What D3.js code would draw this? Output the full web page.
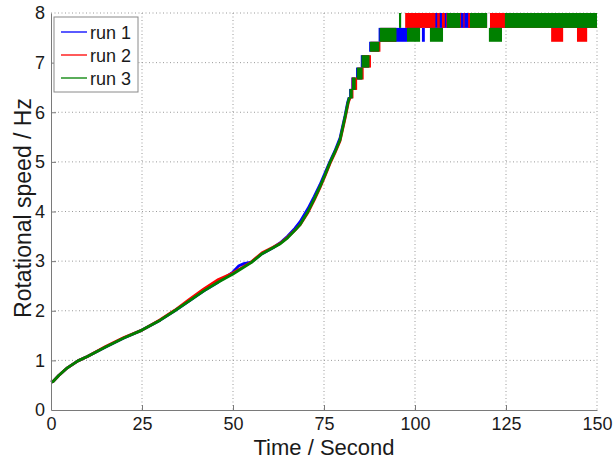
<!DOCTYPE html>
<html>
<head>
<meta charset="utf-8">
<script src="https://cdn.jsdelivr.net/npm/d3@7"></script>
<style>
  body { margin: 0; background: #fff; }
  text { font-family: "Liberation Sans", Arial, sans-serif; fill: #1a1a1a; }
</style>
</head>
<body>
<div id="chart"></div>
<script>
// Tick values
var timeTicks = [0, 25, 50, 75, 100, 125, 150];
var speedTicks = [0, 1, 2, 3, 4, 5, 6, 7, 8];

var runNames = ['run 1', 'run 2', 'run 3'];
var runColors = ['#0000ff', '#ff0000', '#008000'];

// Smooth ramp of each run (time in s, speed in Hz)
var run1Time = [0, 0.5, 2.2, 4.5, 7.4, 10, 15, 20, 25, 30, 34, 38, 42, 46, 50, 51.5, 53, 55, 58, 61, 63, 65, 67, 68.4, 70.6, 72.3, 73.9, 75.3, 76.6, 78, 79.4, 80.8, 81.5, 81.9];
var run1Speed = [0.56, 0.57, 0.7, 0.85, 0.99, 1.08, 1.27, 1.45, 1.61, 1.81, 2.0, 2.2, 2.4, 2.58, 2.78, 2.9, 2.95, 2.98, 3.15, 3.27, 3.37, 3.5, 3.66, 3.79, 4.06, 4.3, 4.54, 4.78, 5.0, 5.22, 5.48, 5.94, 6.2, 6.3];

var run2Time = [0, 0.5, 2.2, 4.5, 7.4, 10, 15, 20, 25, 30, 34, 38, 42, 46, 50, 55, 58, 61, 63, 65, 67, 68.4, 70.6, 72.3, 73.9, 75.3, 76.6, 78, 79.4, 80.8, 81.7, 82.2];
var run2Speed = [0.56, 0.57, 0.7, 0.85, 0.99, 1.08, 1.28, 1.46, 1.61, 1.82, 2.01, 2.23, 2.44, 2.63, 2.76, 2.98, 3.17, 3.28, 3.36, 3.48, 3.62, 3.73, 3.98, 4.23, 4.48, 4.72, 4.96, 5.18, 5.42, 5.88, 6.2, 6.3];

var run3Time = [0, 0.5, 2.2, 4.5, 7.4, 10, 15, 20, 25, 30, 34, 38, 42, 46, 50, 55, 58, 61, 63, 65, 67, 68.4, 70.6, 72.3, 73.9, 75.3, 76.6, 78, 79.4, 80.8, 81.6, 82.0];
var run3Speed = [0.56, 0.57, 0.7, 0.85, 0.99, 1.08, 1.27, 1.45, 1.61, 1.81, 2.0, 2.2, 2.4, 2.58, 2.74, 2.97, 3.15, 3.27, 3.35, 3.47, 3.62, 3.73, 4.0, 4.25, 4.5, 4.74, 4.98, 5.2, 5.44, 5.91, 6.2, 6.3];

// Stretches where the speed flips quickly between two steps:
// [start s, end s, lower Hz, upper Hz]
var run1Bands = [
  [81.9, 82.8, 6.28, 6.47], [82.5, 83.6, 6.45, 6.7], [83.8, 85.4, 6.66, 6.9],
  [85.1, 87.3, 6.9, 7.15], [87.4, 90.0, 7.22, 7.42], [90.0, 97.8, 7.42, 7.7],
  [97.8, 101.9, 7.7, 8.0], [101.9, 102.7, 7.42, 7.7], [102.7, 119.8, 7.7, 8.0],
  [120.6, 150, 7.7, 8.0]
];
var run2Bands = [
  [82.2, 83.1, 6.28, 6.47], [82.6, 84.1, 6.45, 6.7], [84.2, 85.9, 6.66, 6.9],
  [85.5, 87.9, 6.9, 7.15], [87.8, 90.5, 7.22, 7.42], [90.5, 94.8, 7.42, 7.7],
  [97.3, 105.6, 7.7, 8.0], [106.1, 106.8, 7.7, 8.0], [107.4, 108.2, 7.7, 8.0],
  [108.6, 112.6, 7.7, 8.0], [113.3, 113.6, 7.7, 8.0], [114.6, 119.8, 7.7, 8.0],
  [120.6, 137.4, 7.7, 8.0], [137.4, 140.7, 7.42, 7.7], [140.7, 144.5, 7.7, 8.0],
  [144.5, 147.3, 7.42, 7.7], [147.3, 150, 7.7, 8.0]
];
var run3Bands = [
  [82.0, 82.9, 6.28, 6.47], [82.7, 83.7, 6.45, 6.7], [84.0, 85.6, 6.66, 6.9],
  [85.3, 87.5, 6.9, 7.15], [87.6, 90.2, 7.22, 7.42], [90.3, 94.9, 7.42, 7.7],
  [95.6, 96.2, 7.7, 8.0], [97.8, 101.4, 7.42, 7.7], [104.1, 107.7, 7.42, 7.7],
  [108.8, 112.4, 7.7, 8.0], [115.1, 119.8, 7.7, 8.0], [120.3, 123.9, 7.42, 7.7],
  [124.7, 150, 7.7, 8.0]
];

var runs = [
  { time: run1Time, speed: run1Speed, bands: run1Bands },
  { time: run2Time, speed: run2Speed, bands: run2Bands },
  { time: run3Time, speed: run3Speed, bands: run3Bands }
];

var margin = { top: 13, right: 16, bottom: 49, left: 51 },
  width = 613 - margin.left - margin.right,
  height = 459 - margin.top - margin.bottom;

var svg = d3.select('#chart')
  .append('svg')
  .attr('width', 613)
  .attr('height', 459);

svg.append('rect').attr('width', 613).attr('height', 459).attr('fill', '#fff');

var g = svg.append('g')
  .attr('transform', 'translate(' + margin.left + ',' + margin.top + ')');

var x = d3.scaleLinear().domain([0, 150]).range([0, width]);
var y = d3.scaleLinear().domain([0, 8]).range([height, 0]);

// dotted grid
var grid = g.append('g').attr('class', 'grid');

grid.selectAll('line.gx')
  .data(timeTicks.slice(1))
  .enter().append('line')
  .attr('class', 'gx')
  .attr('x1', function (d) { return x(d); })
  .attr('x2', function (d) { return x(d); })
  .attr('y1', 0).attr('y2', height);

grid.selectAll('line.gy')
  .data(speedTicks.slice(1))
  .enter().append('line')
  .attr('class', 'gy')
  .attr('x1', 0).attr('x2', width)
  .attr('y1', function (d) { return y(d); })
  .attr('y2', function (d) { return y(d); });

grid.selectAll('line')
  .attr('stroke', '#9a9a9a')
  .attr('stroke-width', 1)
  .attr('stroke-dasharray', '1,2.5');

// runs, drawn in order so run 3 ends up on top
var line = d3.line()
  .x(function (d) { return x(d[0]); })
  .y(function (d) { return y(d[1]); });

runs.forEach(function (run, i) {
  var pts = run.time.map(function (t, k) { return [t, run.speed[k]]; });
  g.append('path')
    .datum(pts)
    .attr('d', line)
    .attr('fill', 'none')
    .attr('stroke', runColors[i])
    .attr('stroke-width', 2.8)
    .attr('stroke-linejoin', 'round');

  g.selectAll('.band' + i)
    .data(run.bands)
    .enter().append('rect')
    .attr('class', 'band' + i)
    .attr('x', function (d) { return x(d[0]); })
    .attr('width', function (d) { return x(d[1]) - x(d[0]); })
    .attr('y', function (d) { return y(d[3]); })
    .attr('height', function (d) { return y(d[2]) - y(d[3]); })
    .attr('fill', runColors[i]);
});

// axes (ticks pointing inward like the original)
var xAxis = g.append('g')
  .attr('transform', 'translate(0,' + height + ')')
  .call(d3.axisBottom(x).tickValues(timeTicks).tickSize(-5).tickSizeOuter(0).tickPadding(7));

var yAxis = g.append('g')
  .call(d3.axisLeft(y).tickValues(speedTicks).tickSize(-5).tickSizeOuter(0).tickPadding(6));

[xAxis, yAxis].forEach(function (ax) {
  ax.select('.domain').attr('stroke', '#7a7a7a');
  ax.selectAll('.tick line').attr('stroke', '#7a7a7a');
  ax.selectAll('.tick text')
    .style('font-size', '18px')
    .style('font-family', '"Liberation Sans", Arial, sans-serif')
    .attr('fill', '#1a1a1a');
});
// no tick marks at the axis ends
xAxis.selectAll('.tick').filter(function (d) { return d === 0 || d === 150; }).select('line').remove();
yAxis.selectAll('.tick').filter(function (d) { return d === 0 || d === 8; }).select('line').remove();

// axis titles
svg.append('text')
  .attr('x', margin.left + width / 2)
  .attr('y', 455)
  .attr('text-anchor', 'middle')
  .style('font-size', '22px')
  .text('Time / Second');

svg.append('text')
  .attr('transform', 'translate(31,' + 208 + ') rotate(-90)')
  .attr('text-anchor', 'middle')
  .style('font-size', '23px')
  .text('Rotational speed / Hz');

// legend
var legend = svg.append('g').attr('transform', 'translate(54,17)');
legend.append('rect')
  .attr('width', 84).attr('height', 75)
  .attr('fill', '#fff')
  .attr('stroke', '#8a8a8a')
  .attr('stroke-width', 1);

runNames.forEach(function (name, i) {
  var ly = 15 + i * 23;
  legend.append('line')
    .attr('x1', 7).attr('x2', 33)
    .attr('y1', ly).attr('y2', ly)
    .attr('stroke', runColors[i])
    .attr('stroke-width', 1.3);
  legend.append('text')
    .attr('x', 36)
    .attr('y', ly + 6.5)
    .style('font-size', '18px')
    .text(name);
});
</script>
</body>
</html>
